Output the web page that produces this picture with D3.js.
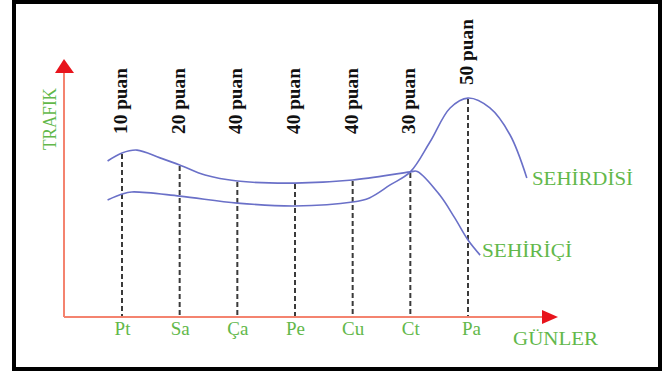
<!DOCTYPE html>
<html>
<head>
<meta charset="utf-8">
<script src="https://cdn.jsdelivr.net/npm/d3@7"></script>
<style>
  html, body { margin: 0; padding: 0; background: #fff; }
  svg { display: block; }
</style>
</head>
<body>
<svg id="chart" width="668" height="373"></svg>
<script>
// ---- data ----
const categories = ["Pt", "Sa", "Ça", "Pe", "Cu", "Ct", "Pa"];
const pointLabels = ["10 puan", "20 puan", "40 puan", "40 puan", "40 puan", "30 puan", "50 puan"];
// day position (0 = Pt, 6 = Pa) and traffic value
const sehiriciDays   = [-0.25, 0, 0.26, 0.66, 1, 1.44, 2, 3, 4, 5, 5.12, 5.51, 5.77, 6, 6.21];
const sehiriciValues = [60.0, 63.1, 64.2, 61.2, 58.5, 54.6, 52.3, 51.5, 52.7, 55.8, 56.0, 46.9, 38.1, 29.6, 23.8];
const sehirdisiDays   = [-0.25, 0, 0.17, 1, 2, 3, 4, 4.29, 4.65, 5, 5.34, 5.69, 6, 6.38, 6.73, 7.02];
const sehirdisiValues = [45.0, 47.3, 48.1, 46.5, 43.8, 42.7, 44.2, 45.8, 50.8, 55.8, 67.3, 80.4, 84.2, 80.4, 70.0, 53.5];
const seriesNames = ["SEHİRİÇİ", "SEHİRDİSİ"];
const axisTitles = { x: "GÜNLER", y: "TRAFIK" };

// ---- setup ----
const svg = d3.select("#chart");
const serif = "Liberation Serif, Times New Roman, serif";
const green = "#62b84a";
const lineBlue = "#6a70c8";
const axisSalmon = "#f4836f";
const arrowRed = "#e8141c";

const x = d3.scaleLinear().domain([0, 6]).range([122, 468]);
const y = d3.scaleLinear().domain([0, 100]).range([317, 57]);

// frame
svg.append("rect").attr("x", 14).attr("y", 2).attr("width", 646).attr("height", 367)
  .attr("fill", "none").attr("stroke", "#000").attr("stroke-width", 4);

const sA = sehiriciDays.map((d, i) => ({ d, v: sehiriciValues[i] }));
const sB = sehirdisiDays.map((d, i) => ({ d, v: sehirdisiValues[i] }));

// dashed guide lines + point labels
categories.forEach((c, i) => {
  const top = Math.max(sehiriciValues[sehiriciDays.indexOf(i)], sehirdisiValues[sehirdisiDays.indexOf(i)]);
  svg.append("line")
    .attr("x1", x(i)).attr("x2", x(i))
    .attr("y1", y(top) + 1).attr("y2", y(0))
    .attr("stroke", "#3a3a3a").attr("stroke-width", 2)
    .attr("stroke-dasharray", "5,3");
  const ly = Math.min(134, y(top) - 13);
  svg.append("text")
    .attr("transform", `translate(${x(i) + 5},${ly}) rotate(-90)`)
    .style("font-family", serif)
    .style("font-weight", "bold").style("font-size", "19px")
    .attr("textLength", 66).attr("lengthAdjust", "spacingAndGlyphs")
    .attr("fill", "#111")
    .text(pointLabels[i]);
});

// curves
const line = d3.line().x(p => x(p.d)).y(p => y(p.v)).curve(d3.curveCatmullRom.alpha(0.5));
[sA, sB].forEach(s => {
  svg.append("path").attr("d", line(s)).attr("fill", "none")
    .attr("stroke", lineBlue).attr("stroke-width", 1.6);
});

// axes
svg.append("line").attr("x1", 64).attr("x2", 64).attr("y1", y(0)).attr("y2", 70)
  .attr("stroke", axisSalmon).attr("stroke-width", 2);
svg.append("path").attr("d", "M55,73 L64,59 L74,73 Z").attr("fill", arrowRed);
svg.append("line").attr("x1", 64).attr("x2", 545).attr("y1", y(0)).attr("y2", y(0))
  .attr("stroke", axisSalmon).attr("stroke-width", 2);
svg.append("path").attr("d", "M542,310 L558,317 L542,324 Z").attr("fill", arrowRed);

// category labels via axis
const xAxis = d3.axisBottom(x).tickValues(d3.range(categories.length))
  .tickFormat(i => categories[i]).tickSize(0).tickPadding(0);
const gx = svg.append("g").attr("transform", `translate(0,${y(0)})`).call(xAxis);
gx.select(".domain").remove();
gx.selectAll("text")
  .attr("dy", null).attr("y", 18)
  .attr("dx", (d, i) => i === 6 ? 3 : 0)
  .style("font-family", serif)
  .style("font-size", "19px").attr("fill", green);

// titles
svg.append("text").attr("x", 513).attr("y", 345)
  .style("font-family", serif).style("font-size", "18px").attr("fill", green)
  .attr("textLength", 85).attr("lengthAdjust", "spacingAndGlyphs")
  .text(axisTitles.x);
svg.append("text").attr("transform", "translate(56,150) rotate(-90)")
  .style("font-family", serif).style("font-size", "19px").attr("fill", green)
  .attr("textLength", 62).attr("lengthAdjust", "spacingAndGlyphs")
  .text(axisTitles.y);

// series labels
svg.append("text").attr("x", 482).attr("y", 257)
  .style("font-family", serif).style("font-size", "18px").attr("fill", green)
  .attr("textLength", 90).attr("lengthAdjust", "spacingAndGlyphs")
  .text(seriesNames[0]);
svg.append("text").attr("x", 532).attr("y", 185)
  .style("font-family", serif).style("font-size", "19px").attr("fill", green)
  .attr("textLength", 101).attr("lengthAdjust", "spacingAndGlyphs")
  .text(seriesNames[1]);
</script>
</body>
</html>
